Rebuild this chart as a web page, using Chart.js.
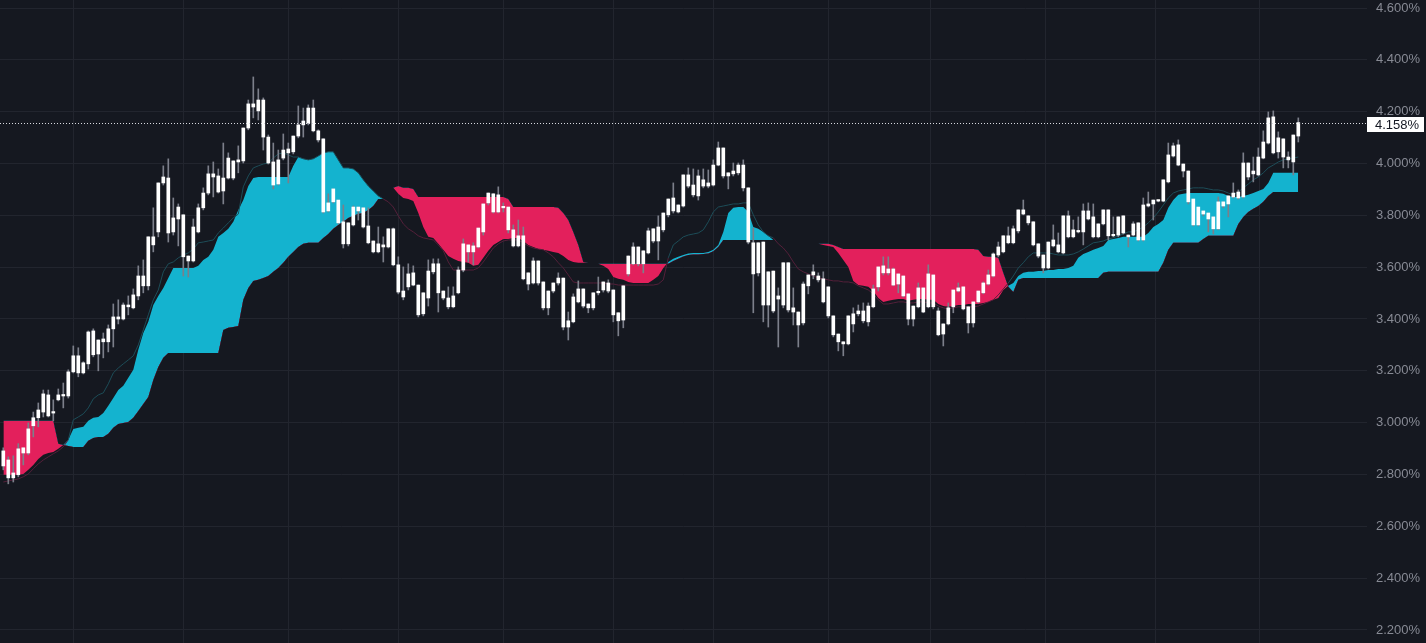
<!DOCTYPE html>
<html>
<head>
<meta charset="utf-8">
<title>Ichimoku</title>
<script src="https://cdn.jsdelivr.net/npm/chart.js@4.4.1/dist/chart.umd.min.js"></script>
<style>
  html, body { margin: 0; padding: 0; background: #151820; overflow: hidden; }
  #wrap { width: 1426px; height: 643px; position: relative; }
</style>
</head>
<body>
<div id="wrap"><canvas id="chart"></canvas></div>
<script>
// daily candles, values in %
const open = [
  2.891, 2.856, 2.806, 2.799, 2.883, 2.883, 2.988, 3.019, 3.041, 3.107,
  3.041, 3.088, 3.103, 3.103, 3.196, 3.258, 3.231, 3.227, 3.262, 3.319,
  3.312, 3.312, 3.362, 3.400, 3.400, 3.447, 3.443, 3.489, 3.528, 3.528,
  3.686, 3.736, 3.925, 3.944, 3.790, 3.786, 3.802, 3.643, 3.624, 3.736,
  3.829, 3.886, 3.948, 3.952, 3.944, 3.944, 4.010, 4.006, 4.010, 4.137,
  4.218, 4.203, 4.245, 4.102, 4.006, 3.921, 4.021, 4.041, 4.045, 4.106,
  4.149, 4.156, 4.214, 4.126, 4.095, 3.848, 3.852, 3.859, 3.775, 3.771,
  3.763, 3.817, 3.829, 3.759, 3.701, 3.690, 3.678, 3.678, 3.748, 3.609,
  3.508, 3.524, 3.531, 3.531, 3.501, 3.481, 3.582, 3.613, 3.508, 3.481,
  3.447, 3.501, 3.589, 3.659, 3.682, 3.678, 3.736, 3.848, 3.883, 3.813,
  3.832, 3.832, 3.744, 3.682, 3.721, 3.578, 3.539, 3.624, 3.543, 3.443,
  3.508, 3.539, 3.558, 3.369, 3.389, 3.466, 3.516, 3.458, 3.443, 3.501,
  3.512, 3.539, 3.512, 3.424, 3.396, 3.574, 3.613, 3.678, 3.613, 3.655,
  3.701, 3.701, 3.744, 3.802, 3.817, 3.840, 3.836, 3.956, 3.917, 3.875,
  3.913, 3.913, 3.917, 3.994, 4.060, 3.952, 3.960, 3.964, 3.994, 3.906,
  3.694, 3.578, 3.697, 3.454, 3.585, 3.477, 3.454, 3.617, 3.443, 3.427,
  3.385, 3.528, 3.570, 3.566, 3.555, 3.524, 3.412, 3.342, 3.312, 3.304,
  3.381, 3.420, 3.431, 3.389, 3.447, 3.524, 3.578, 3.593, 3.593, 3.535,
  3.566, 3.497, 3.400, 3.447, 3.520, 3.447, 3.570, 3.431, 3.342, 3.381,
  3.447, 3.508, 3.524, 3.447, 3.385, 3.466, 3.501, 3.535, 3.566, 3.647,
  3.659, 3.721, 3.694, 3.740, 3.805, 3.798, 3.775, 3.690, 3.647, 3.597,
  3.682, 3.686, 3.655, 3.798, 3.717, 3.736, 3.736, 3.817, 3.794, 3.717,
  3.767, 3.821, 3.721, 3.724, 3.798, 3.724, 3.724, 3.771, 3.705, 3.836,
  3.844, 3.855, 3.855, 3.929, 4.029, 4.072, 3.998, 3.971, 3.863, 3.763,
  3.817, 3.809, 3.794, 3.748, 3.852, 3.844, 3.871, 3.890, 3.871, 4.002,
  3.960, 3.956, 4.021, 4.079, 4.180, 4.045, 4.095, 4.025, 4.006, 4.106
];
const high = [
  2.903, 2.868, 2.872, 2.919, 2.903, 2.999, 3.041, 3.076, 3.126, 3.126,
  3.088, 3.130, 3.153, 3.204, 3.296, 3.289, 3.235, 3.354, 3.362, 3.319,
  3.346, 3.377, 3.458, 3.474, 3.462, 3.489, 3.516, 3.605, 3.628, 3.717,
  3.829, 3.925, 3.991, 4.018, 3.867, 3.844, 3.802, 3.643, 3.786, 3.844,
  3.906, 3.991, 4.006, 3.979, 4.079, 4.041, 4.010, 4.068, 4.137, 4.245,
  4.334, 4.288, 4.253, 4.110, 4.079, 4.052, 4.114, 4.079, 4.106, 4.222,
  4.214, 4.226, 4.245, 4.130, 4.095, 3.883, 3.902, 3.859, 3.840, 3.771,
  3.836, 3.832, 3.829, 3.829, 3.701, 3.755, 3.717, 3.748, 3.751, 3.640,
  3.601, 3.613, 3.605, 3.531, 3.501, 3.628, 3.632, 3.632, 3.508, 3.524,
  3.524, 3.601, 3.709, 3.686, 3.694, 3.751, 3.844, 3.886, 3.883, 3.910,
  3.848, 3.832, 3.763, 3.782, 3.755, 3.578, 3.636, 3.624, 3.543, 3.508,
  3.539, 3.578, 3.558, 3.427, 3.497, 3.547, 3.516, 3.458, 3.501, 3.562,
  3.543, 3.551, 3.512, 3.424, 3.528, 3.643, 3.694, 3.678, 3.663, 3.751,
  3.748, 3.798, 3.809, 3.863, 3.925, 3.840, 3.956, 3.983, 3.979, 3.975,
  3.979, 3.975, 4.014, 4.083, 4.060, 3.964, 4.002, 4.002, 4.014, 3.906,
  3.751, 3.694, 3.697, 3.582, 3.585, 3.520, 3.617, 3.617, 3.520, 3.427,
  3.543, 3.570, 3.609, 3.578, 3.582, 3.524, 3.412, 3.342, 3.312, 3.412,
  3.443, 3.454, 3.462, 3.462, 3.531, 3.601, 3.640, 3.640, 3.597, 3.574,
  3.566, 3.497, 3.450, 3.539, 3.520, 3.609, 3.570, 3.443, 3.381, 3.462,
  3.512, 3.539, 3.524, 3.447, 3.466, 3.508, 3.543, 3.589, 3.655, 3.697,
  3.721, 3.755, 3.759, 3.821, 3.859, 3.798, 3.775, 3.690, 3.647, 3.697,
  3.763, 3.732, 3.798, 3.817, 3.782, 3.794, 3.844, 3.848, 3.844, 3.767,
  3.821, 3.821, 3.794, 3.794, 3.798, 3.724, 3.775, 3.771, 3.867, 3.890,
  3.859, 3.859, 3.937, 4.079, 4.079, 4.091, 3.998, 3.971, 3.863, 3.832,
  3.817, 3.809, 3.794, 3.871, 3.852, 3.875, 3.925, 3.898, 4.041, 4.002,
  4.025, 4.060, 4.126, 4.199, 4.203, 4.122, 4.095, 4.045, 4.110, 4.176
];
const low = [
  2.818, 2.764, 2.771, 2.791, 2.837, 2.876, 2.945, 2.984, 3.022, 3.022,
  3.007, 3.084, 3.057, 3.095, 3.192, 3.177, 3.188, 3.207, 3.254, 3.200,
  3.250, 3.273, 3.292, 3.381, 3.396, 3.416, 3.439, 3.474, 3.501, 3.512,
  3.659, 3.717, 3.917, 3.697, 3.724, 3.682, 3.566, 3.562, 3.620, 3.732,
  3.821, 3.879, 3.871, 3.886, 3.844, 3.940, 3.937, 3.964, 4.002, 4.130,
  4.176, 4.168, 4.052, 3.998, 3.902, 3.917, 4.014, 3.925, 4.037, 4.099,
  4.102, 4.149, 4.122, 4.083, 3.809, 3.813, 3.848, 3.767, 3.674, 3.682,
  3.759, 3.782, 3.751, 3.690, 3.655, 3.655, 3.620, 3.674, 3.605, 3.497,
  3.474, 3.512, 3.528, 3.408, 3.412, 3.450, 3.574, 3.427, 3.474, 3.439,
  3.443, 3.497, 3.582, 3.620, 3.609, 3.674, 3.724, 3.840, 3.809, 3.809,
  3.813, 3.732, 3.678, 3.678, 3.551, 3.512, 3.535, 3.531, 3.435, 3.416,
  3.501, 3.531, 3.358, 3.319, 3.385, 3.462, 3.443, 3.424, 3.435, 3.493,
  3.504, 3.501, 3.389, 3.335, 3.366, 3.566, 3.609, 3.605, 3.578, 3.651,
  3.694, 3.628, 3.736, 3.794, 3.809, 3.809, 3.832, 3.906, 3.871, 3.859,
  3.906, 3.906, 3.913, 3.991, 3.944, 3.902, 3.952, 3.956, 3.894, 3.690,
  3.424, 3.566, 3.389, 3.369, 3.424, 3.292, 3.443, 3.427, 3.377, 3.292,
  3.377, 3.497, 3.555, 3.543, 3.462, 3.404, 3.331, 3.277, 3.258, 3.300,
  3.350, 3.412, 3.385, 3.373, 3.443, 3.508, 3.570, 3.570, 3.528, 3.501,
  3.485, 3.377, 3.373, 3.443, 3.424, 3.443, 3.439, 3.335, 3.296, 3.377,
  3.424, 3.504, 3.435, 3.346, 3.369, 3.462, 3.497, 3.531, 3.562, 3.640,
  3.655, 3.690, 3.690, 3.732, 3.802, 3.763, 3.682, 3.636, 3.578, 3.593,
  3.678, 3.655, 3.651, 3.713, 3.713, 3.732, 3.686, 3.782, 3.713, 3.713,
  3.763, 3.705, 3.717, 3.717, 3.728, 3.678, 3.721, 3.701, 3.701, 3.832,
  3.782, 3.852, 3.852, 3.925, 4.025, 3.991, 3.948, 3.844, 3.759, 3.759,
  3.798, 3.736, 3.728, 3.744, 3.829, 3.794, 3.867, 3.863, 3.867, 3.937,
  3.929, 3.952, 4.018, 4.075, 4.037, 4.021, 3.983, 3.983, 3.956, 4.083
];
const close = [
  2.833, 2.787, 2.787, 2.899, 2.903, 2.976, 3.019, 3.049, 3.111, 3.026,
  3.037, 3.107, 3.107, 3.196, 3.258, 3.192, 3.192, 3.350, 3.354, 3.265,
  3.323, 3.362, 3.408, 3.408, 3.454, 3.454, 3.493, 3.566, 3.566, 3.717,
  3.717, 3.925, 3.948, 3.732, 3.736, 3.832, 3.640, 3.624, 3.755, 3.829,
  3.886, 3.960, 3.960, 3.890, 3.894, 4.021, 3.944, 4.014, 4.137, 4.230,
  4.230, 4.245, 4.102, 4.002, 3.917, 4.014, 4.052, 4.056, 4.106, 4.149,
  4.164, 4.214, 4.126, 4.091, 3.813, 3.817, 3.902, 3.771, 3.690, 3.690,
  3.832, 3.832, 3.755, 3.694, 3.659, 3.659, 3.686, 3.748, 3.609, 3.504,
  3.485, 3.574, 3.578, 3.416, 3.420, 3.585, 3.613, 3.501, 3.481, 3.447,
  3.489, 3.589, 3.690, 3.686, 3.659, 3.751, 3.844, 3.886, 3.813, 3.879,
  3.829, 3.744, 3.682, 3.721, 3.555, 3.535, 3.624, 3.539, 3.443, 3.508,
  3.539, 3.558, 3.369, 3.393, 3.485, 3.516, 3.450, 3.443, 3.501, 3.504,
  3.543, 3.508, 3.416, 3.393, 3.528, 3.643, 3.678, 3.613, 3.663, 3.740,
  3.748, 3.755, 3.809, 3.863, 3.867, 3.813, 3.956, 3.913, 3.879, 3.952,
  3.937, 3.925, 3.994, 4.060, 3.952, 3.964, 3.971, 3.994, 3.906, 3.697,
  3.574, 3.694, 3.454, 3.582, 3.431, 3.489, 3.617, 3.435, 3.427, 3.377,
  3.535, 3.570, 3.582, 3.551, 3.466, 3.412, 3.339, 3.312, 3.304, 3.412,
  3.420, 3.431, 3.393, 3.450, 3.516, 3.601, 3.605, 3.578, 3.531, 3.574,
  3.489, 3.400, 3.450, 3.520, 3.427, 3.574, 3.447, 3.339, 3.381, 3.443,
  3.512, 3.520, 3.439, 3.385, 3.466, 3.508, 3.539, 3.570, 3.651, 3.678,
  3.721, 3.694, 3.748, 3.821, 3.821, 3.771, 3.686, 3.643, 3.597, 3.697,
  3.705, 3.659, 3.798, 3.717, 3.744, 3.740, 3.817, 3.786, 3.717, 3.767,
  3.821, 3.721, 3.724, 3.794, 3.732, 3.717, 3.767, 3.705, 3.840, 3.844,
  3.859, 3.859, 3.937, 4.033, 4.068, 3.994, 3.971, 3.852, 3.763, 3.832,
  3.805, 3.786, 3.748, 3.852, 3.836, 3.875, 3.886, 3.867, 4.002, 3.948,
  3.971, 4.025, 4.083, 4.176, 4.041, 4.099, 4.025, 4.014, 4.110, 4.158
];

// leading spans of the cloud
const spanA = [
  2.799, 2.799, 2.799, 2.799, 2.802, 2.818, 2.837, 2.860, 2.876, 2.883,
  2.887, 2.899, 2.914, 2.934, 2.976, 2.980, 2.984, 3.007, 3.019, 3.022,
  3.037, 3.065, 3.095, 3.126, 3.142, 3.173, 3.204, 3.281, 3.346, 3.389,
  3.454, 3.489, 3.520, 3.558, 3.597, 3.597, 3.597, 3.597, 3.597, 3.605,
  3.628, 3.640, 3.667, 3.717, 3.732, 3.748, 3.775, 3.821, 3.859, 3.913,
  3.944, 3.948, 3.948, 3.948, 3.948, 3.948, 3.948, 3.948, 3.991, 4.025,
  4.018, 4.014, 4.018, 4.029, 4.041, 4.045, 4.045, 4.014, 3.983, 3.983,
  3.979, 3.964, 3.937, 3.913, 3.894, 3.875, 3.863, 3.890, 3.906, 3.883,
  3.867, 3.863, 3.855, 3.809, 3.755, 3.717, 3.713, 3.690, 3.667, 3.643,
  3.632, 3.624, 3.620, 3.617, 3.605, 3.609, 3.636, 3.663, 3.686, 3.697,
  3.709, 3.709, 3.713, 3.713, 3.701, 3.686, 3.678, 3.670, 3.667, 3.663,
  3.659, 3.655, 3.643, 3.628, 3.620, 3.617, 3.617, 3.617, 3.613, 3.613,
  3.605, 3.593, 3.562, 3.555, 3.551, 3.543, 3.539, 3.539, 3.539, 3.539,
  3.551, 3.566, 3.597, 3.620, 3.632, 3.640, 3.647, 3.653, 3.655, 3.655,
  3.655, 3.659, 3.667, 3.686, 3.736, 3.809, 3.829, 3.832, 3.832, 3.813,
  3.755, 3.748, 3.736, 3.721, 3.705, 3.697, 3.694, 3.690, 3.690, 3.690,
  3.690, 3.690, 3.690, 3.690, 3.686, 3.682, 3.678, 3.655, 3.628, 3.601,
  3.547, 3.531, 3.528, 3.524, 3.508, 3.481, 3.466, 3.470, 3.474, 3.477,
  3.477, 3.470, 3.474, 3.477, 3.477, 3.474, 3.474, 3.458, 3.450, 3.447,
  3.450, 3.454, 3.454, 3.458, 3.458, 3.458, 3.462, 3.466, 3.474, 3.481,
  3.512, 3.528, 3.539, 3.566, 3.578, 3.582, 3.582, 3.585, 3.585, 3.589,
  3.589, 3.593, 3.593, 3.597, 3.605, 3.636, 3.651, 3.659, 3.667, 3.674,
  3.682, 3.705, 3.709, 3.713, 3.717, 3.717, 3.717, 3.717, 3.717, 3.732,
  3.755, 3.767, 3.782, 3.829, 3.859, 3.879, 3.883, 3.886, 3.886, 3.886,
  3.886, 3.886, 3.886, 3.886, 3.883, 3.875, 3.871, 3.871, 3.875, 3.879,
  3.886, 3.894, 3.902, 3.925, 3.964, 3.964, 3.964, 3.964, 3.964, 3.964
];
const spanB = [
  3.007, 3.007, 3.007, 3.007, 3.007, 3.007, 3.007, 3.007, 3.007, 3.007,
  3.007, 2.919, 2.914, 2.910, 2.906, 2.906, 2.906, 2.930, 2.941, 2.945,
  2.945, 2.957, 2.980, 2.995, 2.999, 3.003, 3.019, 3.045, 3.072, 3.099,
  3.165, 3.215, 3.250, 3.269, 3.269, 3.269, 3.269, 3.269, 3.269, 3.269,
  3.269, 3.269, 3.269, 3.269, 3.358, 3.366, 3.369, 3.373, 3.474, 3.520,
  3.547, 3.551, 3.558, 3.566, 3.582, 3.597, 3.617, 3.640, 3.659, 3.678,
  3.690, 3.694, 3.694, 3.694, 3.713, 3.728, 3.748, 3.763, 3.775, 3.790,
  3.798, 3.805, 3.809, 3.821, 3.836, 3.863, 3.863, 3.890, 3.906, 3.913,
  3.906, 3.906, 3.902, 3.871, 3.871, 3.871, 3.871, 3.871, 3.871, 3.871,
  3.871, 3.871, 3.871, 3.871, 3.871, 3.871, 3.871, 3.871, 3.871, 3.871,
  3.871, 3.863, 3.832, 3.832, 3.832, 3.832, 3.832, 3.832, 3.832, 3.832,
  3.832, 3.829, 3.809, 3.782, 3.736, 3.686, 3.620, 3.617, 3.613, 3.613,
  3.613, 3.613, 3.613, 3.613, 3.613, 3.613, 3.613, 3.613, 3.613, 3.613,
  3.613, 3.613, 3.613, 3.613, 3.624, 3.632, 3.641, 3.647, 3.649, 3.649,
  3.651, 3.653, 3.661, 3.678, 3.705, 3.705, 3.705, 3.705, 3.705, 3.705,
  3.705, 3.705, 3.705, 3.705, 3.705, 3.697, 3.694, 3.690, 3.690, 3.690,
  3.690, 3.690, 3.690, 3.690, 3.690, 3.690, 3.686, 3.678, 3.670, 3.670,
  3.670, 3.670, 3.670, 3.670, 3.670, 3.670, 3.670, 3.670, 3.670, 3.670,
  3.670, 3.670, 3.670, 3.670, 3.670, 3.670, 3.670, 3.670, 3.670, 3.670,
  3.670, 3.670, 3.670, 3.670, 3.670, 3.667, 3.643, 3.640, 3.640, 3.636,
  3.578, 3.524, 3.504, 3.551, 3.558, 3.558, 3.558, 3.558, 3.558, 3.558,
  3.558, 3.558, 3.558, 3.558, 3.558, 3.558, 3.558, 3.558, 3.558, 3.558,
  3.578, 3.582, 3.582, 3.582, 3.582, 3.582, 3.582, 3.582, 3.582, 3.582,
  3.582, 3.582, 3.617, 3.667, 3.694, 3.694, 3.694, 3.694, 3.694, 3.694,
  3.709, 3.721, 3.721, 3.721, 3.721, 3.721, 3.721, 3.767, 3.794, 3.813,
  3.825, 3.836, 3.852, 3.875, 3.890, 3.890, 3.890, 3.890, 3.890, 3.890
];
// thin base line
const baseLine = [
  2.771, 2.775, 2.779, 2.783, 2.791, 2.802, 2.822, 2.841, 2.856, 2.868,
  2.880, 2.891, 2.907, 2.934, 3.011, 3.022, 3.034, 3.057, 3.092, 3.107,
  3.115, 3.150, 3.192, 3.211, 3.227, 3.242, 3.258, 3.300, 3.358, 3.416,
  3.474, 3.512, 3.582, 3.613, 3.620, 3.636, 3.647, 3.655, 3.670, 3.694,
  3.697, 3.701, 3.705, 3.732, 3.751, 3.771, 3.790, 3.805, 3.910, 3.952,
  3.983, 3.991, 3.998, 4.002, 4.021, 4.037, 4.041, 4.033, 4.025, 4.025,
  4.018, 4.014, 4.018, 4.029, 4.041, 4.045, 4.045, 4.014, 3.983, 3.983,
  3.979, 3.964, 3.937, 3.913, 3.894, 3.875, 3.863, 3.852, 3.832, 3.798,
  3.767, 3.748, 3.736, 3.721, 3.713, 3.709, 3.705, 3.686, 3.663, 3.620,
  3.589, 3.589, 3.589, 3.589, 3.589, 3.597, 3.620, 3.647, 3.674, 3.690,
  3.701, 3.705, 3.705, 3.705, 3.694, 3.682, 3.674, 3.670, 3.667, 3.655,
  3.640, 3.617, 3.597, 3.570, 3.543, 3.539, 3.539, 3.539, 3.539, 3.539,
  3.539, 3.535, 3.535, 3.531, 3.531, 3.531, 3.531, 3.531, 3.531, 3.531,
  3.531, 3.535, 3.551, 3.636, 3.686, 3.701, 3.717, 3.724, 3.728, 3.732,
  3.744, 3.775, 3.813, 3.832, 3.836, 3.840, 3.844, 3.844, 3.848, 3.848,
  3.802, 3.763, 3.736, 3.721, 3.713, 3.690, 3.674, 3.651, 3.620, 3.593,
  3.582, 3.574, 3.566, 3.558, 3.555, 3.551, 3.547, 3.547, 3.543, 3.543,
  3.539, 3.528, 3.520, 3.512, 3.497, 3.474, 3.458, 3.458, 3.462, 3.466,
  3.466, 3.462, 3.462, 3.466, 3.466, 3.462, 3.462, 3.450, 3.443, 3.439,
  3.443, 3.447, 3.447, 3.447, 3.447, 3.450, 3.458, 3.466, 3.474, 3.493,
  3.516, 3.539, 3.566, 3.597, 3.617, 3.640, 3.655, 3.655, 3.655, 3.655,
  3.651, 3.647, 3.647, 3.647, 3.651, 3.659, 3.670, 3.682, 3.694, 3.697,
  3.701, 3.709, 3.713, 3.721, 3.728, 3.736, 3.736, 3.744, 3.755, 3.771,
  3.790, 3.813, 3.840, 3.867, 3.886, 3.894, 3.898, 3.902, 3.906, 3.906,
  3.906, 3.902, 3.898, 3.898, 3.894, 3.886, 3.879, 3.890, 3.906, 3.921,
  3.937, 3.948, 3.964, 3.983, 3.994, 4.006, 4.014, 4.018, 4.021, 4.025
];

const lastPrice = 4.158;
const yTicks = [2.2, 2.4, 2.6, 2.8, 3.0, 3.2, 3.4, 3.6, 3.8, 4.0, 4.2, 4.4, 4.6];
// month boundaries, in candle index units
const monthTicks = [14.1, 36.1, 57.1, 79.1, 100.1, 122.1, 142.1, 165.1, 185.4, 208.5, 230.5, 251.3];

const gridColor = '#22252e';
const cloudUp = '#14b3cf';
const cloudDown = '#e3205c';
const lineUp = '#1d4d58';
const lineDown = '#54203a';
const fontFamily = '"Liberation Sans", Arial, sans-serif';

const pts = arr => arr.map((v, i) => ({ x: i, y: v }));

const lastPricePlugin = {
  id: 'lastPrice',
  afterDraw(chart) {
    const { ctx, chartArea, scales } = chart;
    const y = Math.round(scales.y.getPixelForValue(lastPrice)) + 0.5;
    ctx.save();
    ctx.strokeStyle = '#d8dae0';
    ctx.lineWidth = 1;
    ctx.setLineDash([1, 2]);
    ctx.beginPath();
    ctx.moveTo(chartArea.left, y);
    ctx.lineTo(chartArea.right, y);
    ctx.stroke();
    ctx.setLineDash([]);
    ctx.fillStyle = '#ffffff';
    ctx.fillRect(chartArea.right, y - 6.5, 57, 15);
    ctx.fillStyle = '#131722';
    ctx.font = '13px ' + fontFamily;
    ctx.textBaseline = 'middle';
    ctx.textAlign = 'left';
    ctx.fillText(lastPrice.toFixed(3) + '%', chartArea.right + 8, y + 1.5);
    ctx.restore();
  }
};

new Chart(document.getElementById('chart'), {
  data: {
    datasets: [
      {
        type: 'line',
        label: 'Leading span A',
        data: pts(spanA),
        borderColor: 'transparent',
        borderWidth: 0,
        pointRadius: 0,
        fill: { target: 1, above: cloudUp, below: cloudDown },
        order: 5
      },
      {
        type: 'line',
        label: 'Leading span B',
        data: pts(spanB),
        borderColor: 'transparent',
        borderWidth: 0,
        pointRadius: 0,
        fill: false,
        order: 4
      },
      {
        type: 'line',
        label: 'Base line',
        data: pts(baseLine),
        borderWidth: 1,
        pointRadius: 0,
        fill: false,
        segment: {
          borderColor: c => spanA[c.p0DataIndex] > spanB[c.p0DataIndex] ? lineUp : lineDown
        },
        order: 3
      },
      {
        type: 'bar',
        label: 'Wicks',
        data: low.map((l, i) => ({ x: i, y: [l, high[i]] })),
        backgroundColor: '#7c7f8a',
        barThickness: 1,
        grouped: false,
        order: 2
      },
      {
        type: 'bar',
        label: 'Candles',
        data: open.map((o, i) => ({ x: i, y: [o, close[i]] })),
        backgroundColor: '#ffffff',
        barThickness: 3,
        minBarLength: 1.5,
        grouped: false,
        order: 1
      }
    ]
  },
  options: {
    responsive: true,
    maintainAspectRatio: false,
    animation: false,
    events: [],
    layout: { padding: 0 },
    plugins: {
      legend: { display: false },
      tooltip: { enabled: false }
    },
    scales: {
      x: {
        type: 'linear',
        min: -0.66,
        max: 272.74,
        offset: false,
        ticks: { display: false },
        afterBuildTicks: s => { s.ticks = monthTicks.map(v => ({ value: v })); },
        grid: { color: gridColor, drawTicks: false, offset: false },
        border: { display: false }
      },
      y: {
        type: 'linear',
        position: 'right',
        min: 2.1498,
        max: 4.6309,
        afterBuildTicks: s => { s.ticks = yTicks.map(v => ({ value: v })); },
        ticks: {
          color: '#878a94',
          padding: 9,
          autoSkip: false,
          font: { size: 13, family: fontFamily },
          callback: v => v.toFixed(3) + '%'
        },
        grid: { color: gridColor, drawTicks: false },
        border: { display: false },
        afterFit: s => { s.width = 59; s.paddingTop = 0; s.paddingBottom = 0; }
      }
    }
  },
  plugins: [lastPricePlugin]
});
</script>
</body>
</html>
